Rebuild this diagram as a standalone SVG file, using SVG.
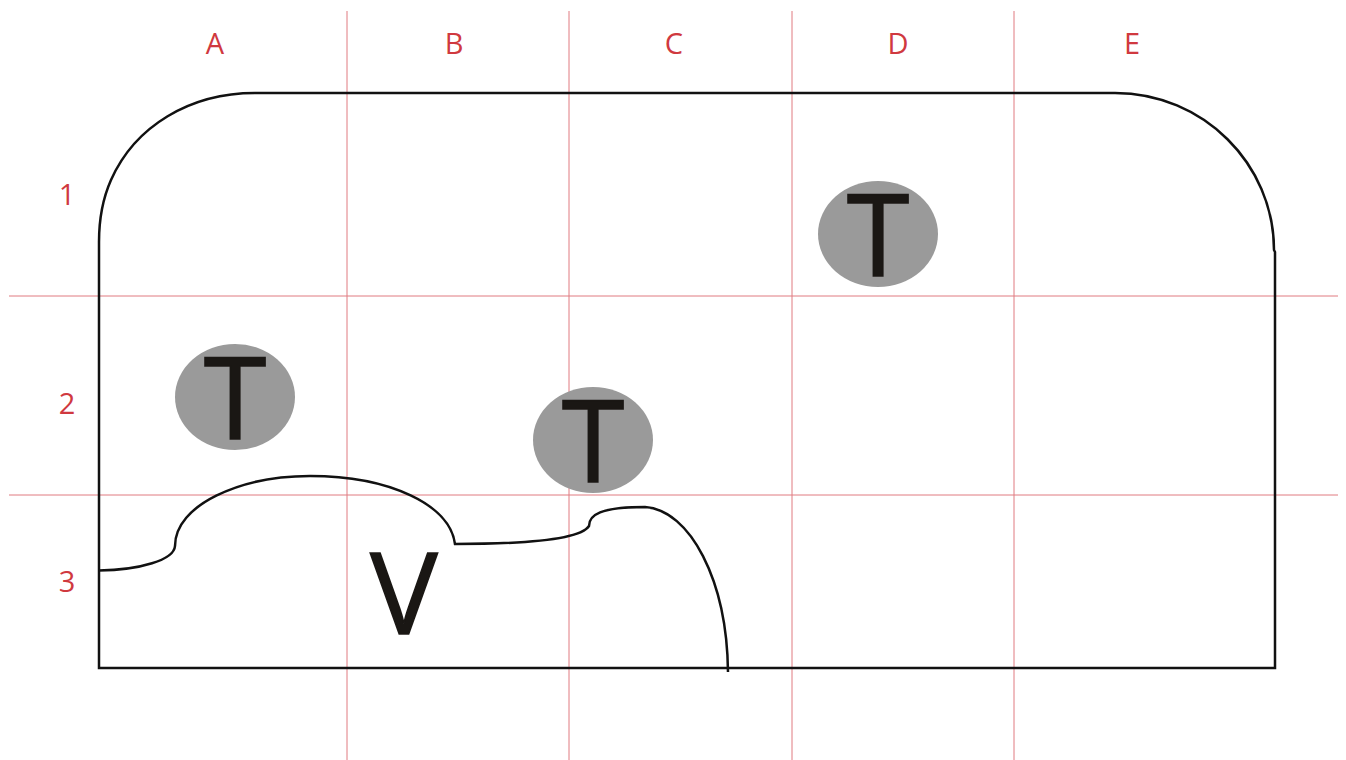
<svg xmlns="http://www.w3.org/2000/svg" width="1346" height="760" viewBox="0 0 1346 760">
<style>
.grid{stroke:#e07a80;stroke-width:1;fill:none}
.lbl{font-family:"Open Sans","Liberation Sans",sans-serif;font-size:29px;fill:#d0393f;text-anchor:middle}
.out{stroke:#111;stroke-width:2.5;fill:none}
.tok{fill:#9a9a9a}
.big{font-family:"Open Sans","Liberation Sans",sans-serif;font-size:113px;fill:#1a1714;stroke:#1a1714;stroke-width:1.6;text-anchor:middle}
</style>
<rect width="1346" height="760" fill="#fff"/>
<g id="grid">
<line class="grid" x1="347" y1="11" x2="347" y2="760"/>
<line class="grid" x1="569" y1="11" x2="569" y2="760"/>
<line class="grid" x1="792" y1="11" x2="792" y2="760"/>
<line class="grid" x1="1014" y1="11" x2="1014" y2="760"/>
<line class="grid" x1="9" y1="296" x2="1338" y2="296"/>
<line class="grid" x1="9" y1="495" x2="1338" y2="495"/>
</g>
<g id="labels">
<text class="lbl" x="215" y="54">A</text>
<text class="lbl" x="454" y="54">B</text>
<text class="lbl" x="674" y="54">C</text>
<text class="lbl" x="898" y="54">D</text>
<text class="lbl" x="1132" y="54">E</text>
<text class="lbl" x="67" y="205">1</text>
<text class="lbl" x="67" y="414">2</text>
<text class="lbl" x="67" y="592">3</text>
</g>
<g id="outline">
<path class="out" d="M99,668 L99,242 C99,220 103,198 111,180 C135,126 190,93 255,93 L1115,93 C1203,93 1274,164 1274,250 L1275,252 L1275,668 Z"/>
<path class="out" d="M99,570.5 C140,570 174,560 175,546 C175,505 240,476 310,476 C390,476 450,505 455,544 C520,544 580,540 589,526 C589,515 600,507 645,507 C690,510 727,580 728,672"/>
</g>
<g id="t1"><ellipse class="tok" cx="235" cy="397" rx="60" ry="53"/><text class="big" x="235" y="439">T</text></g>
<g id="t2"><ellipse class="tok" cx="593" cy="440" rx="60" ry="53"/><text class="big" x="593" y="482">T</text></g>
<g id="t3"><ellipse class="tok" cx="878" cy="234" rx="60" ry="53"/><text class="big" x="878" y="276">T</text></g>
<g id="v"><text class="big" x="404" y="634">V</text></g>
</svg>
